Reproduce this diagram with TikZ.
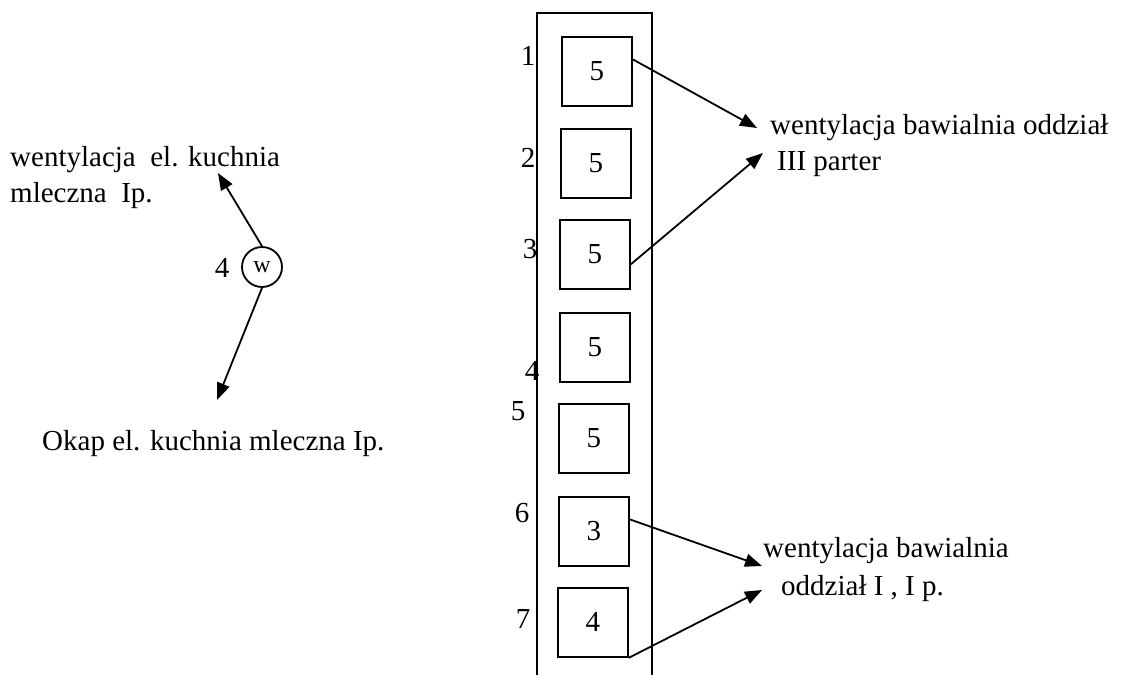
\documentclass[tikz,border=0pt]{standalone}
\usepackage{fontspec}
\setmainfont{Liberation Serif}
\usetikzlibrary{arrows.meta,calc}
\begin{document}
\begin{tikzpicture}[x=1pt,y=-1pt,
  box/.style={draw,line width=1.8pt,minimum width=70pt,minimum height=69pt,inner sep=0pt,anchor=north west,
    font=\fontsize{29}{33}\selectfont},
  lbl/.style={font=\fontsize{29}{33}\selectfont,inner sep=0pt,anchor=base west},
  num/.style={font=\fontsize{29}{33}\selectfont,inner sep=0pt,anchor=base},
  arr/.style={line width=1.8pt,-{Triangle[length=17pt,width=13pt]}},
  wall/.style={line width=1.8pt}]
\useasboundingbox (0,0) rectangle (1135,675);
% column
\coordinate (cbl) at (537,675);
\coordinate (ctl) at (537,13);
\coordinate (ctr) at (652,13);
\coordinate (cbr) at (652,675);
\draw[wall] (cbl) -- (ctl) -- (ctr) -- (cbr);
% boxes
\node[box] (b1) at (561,36) {5};
\node[box] (b2) at (560,128) {5};
\node[box] (b3) at (559,219) {5};
\node[box] (b4) at (559,312) {5};
\node[box] (b5) at (558,403) {5};
\node[box] (b6) at (558,496) {3};
\node[box] (b7) at (557,587) {4};
% numbers
\node[num] (n1) at (528,65) {1};
\node[num] (n2) at (528,167) {2};
\node[num] (n3) at (530,258) {3};
\node[num] (n4) at (532,380) {4};
\node[num] (n5) at (518,420) {5};
\node[num] (n6) at (522,522) {6};
\node[num] (n7) at (523,628) {7};
% right labels
\node[lbl] (t1) at (770,134) {wentylacja bawialnia oddział};
\node[lbl] (t2) at (777,170) {III parter};
\node[lbl] (t3) at (763,557) {wentylacja bawialnia};
\node[lbl] (t4) at (781,595) {oddział I , I p.};
\coordinate (a1) at (757,128);
\coordinate (a2) at (763,153);
\coordinate (a3) at (762,566);
\coordinate (a4) at (762,590);
\draw[arr] ($(b1.north east)!0.33!(b1.south east)$) -- (a1);
\draw[arr] ($(b3.north east)!0.64!(b3.south east)$) -- (a2);
\draw[arr] ($(b6.north east)!0.33!(b6.south east)$) -- (a3);
\draw[arr] (b7.south east) -- (a4);
% left part
\node[draw,circle,line width=1.8pt,minimum size=40pt,inner sep=0pt,font=\fontsize{24}{28}\selectfont] (w) at (262,267) {w};
\node[num] (n0) at (222,277) {4};
\node[lbl] (l1) at (10,166) {wentylacja\ \ el. kuchnia};
\node[lbl] (l2) at (10,202) {mleczna\ \ Ip.};
\node[lbl] (l3) at (42,450) {Okap el. kuchnia mleczna Ip.};
\coordinate (u) at (218,173);
\coordinate (d) at (217,400);
\draw[arr] (w.north) -- (u);
\draw[arr] (w.south) -- (d);
\end{tikzpicture}
\end{document}
